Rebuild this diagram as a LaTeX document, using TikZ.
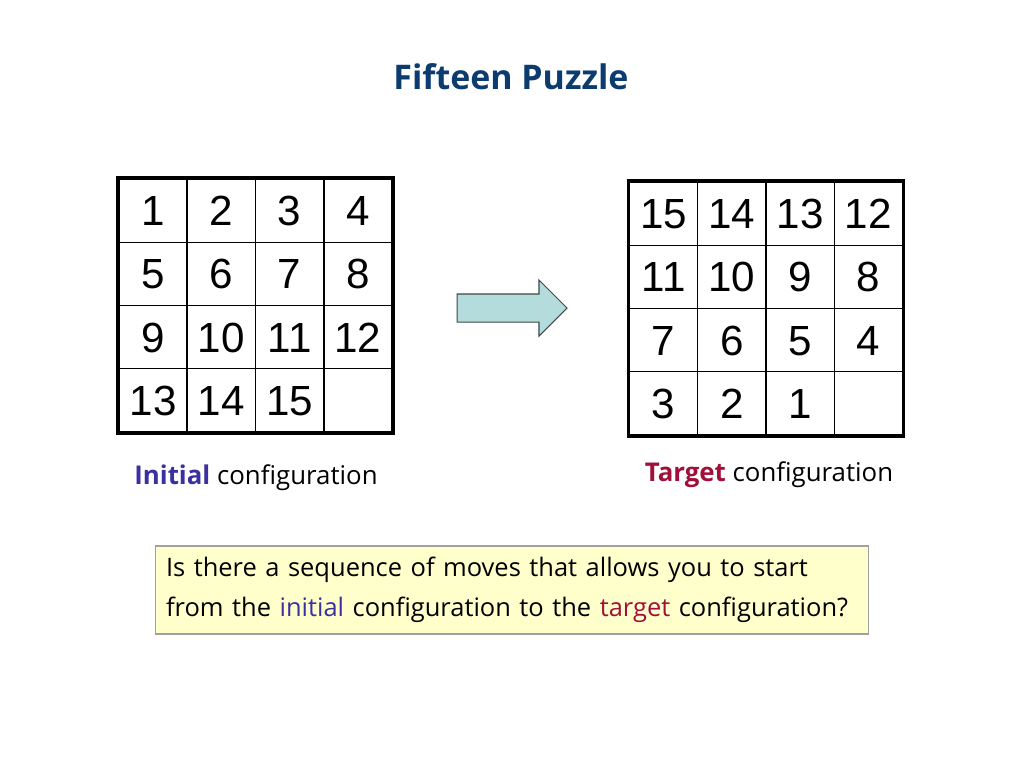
\documentclass[tikz,border=0pt]{standalone}
\usepackage{fontspec}
\setmainfont{Open Sans}
\newfontfamily\numfont{Liberation Sans}
\usetikzlibrary{matrix, shapes.arrows, positioning}

\definecolor{titleblue}{HTML}{0C3B70}
\definecolor{initblue}{HTML}{3A30A0}
\definecolor{targetred}{HTML}{A0103A}
\definecolor{notefill}{HTML}{FFFFCC}
\definecolor{notedraw}{HTML}{A0A0A0}
\definecolor{arrowfill}{HTML}{B4DCDC}
\definecolor{arrowdraw}{HTML}{404848}

\tikzset{
  cell/.style={draw, line width=0.85pt, inner sep=0pt, anchor=center,
    minimum width=1.366cm, minimum height=1.265cm, text height=17pt, text depth=0pt,
    font=\numfont\fontsize{24}{24}\selectfont},
  board/.style={matrix of nodes, nodes in empty cells, nodes={cell},
    inner sep=0pt, column sep=-0.85pt, row sep=-0.85pt},
  frame/.style={line width=1.7pt},
  caption/.style={font=\fontsize{14.7}{17}\selectfont},
}

\begin{document}
\begin{tikzpicture}[x=0.02cm, y=-0.02cm]
	\useasboundingbox (0,0) rectangle (1024,768);
	
	\node[text=titleblue, font=\bfseries\fontsize{19.3}{22}\selectfont] (title) at (511,77) {Fifteen Puzzle};
	
	\matrix[board] (init) at (255.5,305.5) {
		1 & 2 & 3 & 4 \\
		5 & 6 & 7 & 8 \\
		9 & 10 & 11 & 12 \\
		13 & 14 & 15 & \\
	};
	\matrix[board] (target) at (766,308.5) {
		15 & 14 & 13 & 12 \\
		11 & 10 & 9 & 8 \\
		7 & 6 & 5 & 4 \\
		3 & 2 & 1 & \\
	};
	\draw[frame] (init.north west) rectangle (init.south east);
	\draw[frame] (target.north west) rectangle (target.south east);
	
	\node[single arrow, draw=arrowdraw, fill=arrowfill, line width=0.6pt,
	  inner xsep=0pt, inner ysep=0.27cm, minimum height=2.2cm,
	  single arrow head extend=0.28cm, single arrow tip angle=90] (go) at (505,308) {};
	
	\node[caption] (initlabel) at (256,478) {\textcolor{initblue}{\bfseries Initial} configuration};
	\node[caption] (targetlabel) at (769,475) {\textcolor{targetred}{\bfseries Target} configuration};
	
	\node[draw=notedraw, fill=notefill, line width=0.6pt, minimum width=14.28cm, minimum height=1.76cm,
	  inner xsep=0.22cm, text width=13.84cm, align=left, font=\fontsize{14.5}{23}\selectfont] (question) at (512,590)
	  {Is there a sequence of moves that allows you to start\\
	   from the \textcolor{initblue}{initial} configuration to the \textcolor{targetred}{target} configuration?};
\end{tikzpicture}
\end{document}
